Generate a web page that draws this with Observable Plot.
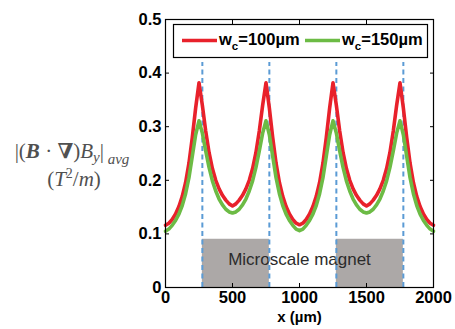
<!DOCTYPE html>
<html>
<head>
<meta charset="utf-8">
<script src="https://cdn.jsdelivr.net/npm/d3@7"></script>
<script src="https://cdn.jsdelivr.net/npm/@observablehq/plot@0.6"></script>
<style>
  body { margin: 0; background: #fff; }
  #chart { width: 455px; height: 329px; }
  svg { overflow: visible; }
</style>
</head>
<body>
<div id="chart"></div>
<script>
// Sampling positions along the channel (µm)
const positions = d3.range(0, 2001, 25);

// |(B·∇)By|avg for the two channel widths, one value per position
const red100 = [
  0.116, 0.120, 0.127, 0.137, 0.151, 0.170, 0.196, 0.232, 0.280, 0.335,
  0.382, 0.340, 0.292, 0.252, 0.222, 0.200, 0.184, 0.172, 0.163, 0.156,
  0.152, 0.156, 0.163, 0.172, 0.184, 0.200, 0.222, 0.252, 0.292, 0.340,
  0.382, 0.335, 0.280, 0.232, 0.196, 0.170, 0.151, 0.137, 0.127, 0.120,
  0.117, 0.120, 0.127, 0.137, 0.151, 0.170, 0.196, 0.232, 0.280, 0.335,
  0.382, 0.340, 0.292, 0.252, 0.222, 0.200, 0.184, 0.172, 0.163, 0.156,
  0.152, 0.156, 0.163, 0.172, 0.184, 0.200, 0.222, 0.252, 0.292, 0.340,
  0.382, 0.335, 0.280, 0.232, 0.196, 0.170, 0.151, 0.137, 0.127, 0.120,
  0.116
];
const green150 = [
  0.105, 0.109, 0.116, 0.125, 0.137, 0.153, 0.175, 0.205, 0.245, 0.285,
  0.311, 0.288, 0.255, 0.224, 0.199, 0.180, 0.165, 0.154, 0.146, 0.141,
  0.139, 0.141, 0.146, 0.154, 0.165, 0.180, 0.199, 0.224, 0.255, 0.288,
  0.311, 0.285, 0.245, 0.205, 0.175, 0.153, 0.137, 0.125, 0.116, 0.109,
  0.106, 0.109, 0.116, 0.125, 0.137, 0.153, 0.175, 0.205, 0.245, 0.285,
  0.311, 0.288, 0.255, 0.224, 0.199, 0.180, 0.165, 0.154, 0.146, 0.141,
  0.139, 0.141, 0.146, 0.154, 0.165, 0.180, 0.199, 0.224, 0.255, 0.288,
  0.311, 0.285, 0.245, 0.205, 0.175, 0.153, 0.137, 0.125, 0.116, 0.109,
  0.105
];

// Magnet blocks (µm) and their edges
const magnetStart = [275, 1275];
const magnetEnd = [775, 1775];
const magnetEdges = [275, 775, 1275, 1775];
const magnetTop = 0.09;
const edgeTop = 0.42;

const seriesNames = ["100µm", "150µm"];
const xTicks = [0, 500, 1000, 1500, 2000];
const yTicks = [0, 0.1, 0.2, 0.3, 0.4, 0.5];
const yTickLabels = ["0", "0.1", "0.2", "0.3", "0.4", "0.5"];

const RED = "#e8212b";
const GREEN = "#6cbb45";
const BLUE = "#5b9bd5";

const rows = positions.map((x, i) => ({x, red: red100[i], green: green150[i]}));
const magnets = magnetStart.map((s, i) => ({start: s, end: magnetEnd[i]}));

const tickFont = {fontSize: 16.5, fontWeight: "bold", fill: "#000"};

const chart = Plot.plot({
  width: 455,
  height: 329,
  marginLeft: 165,
  marginRight: 22,
  marginTop: 19,
  marginBottom: 42,
  style: {fontFamily: "'Liberation Sans', Arial, sans-serif", background: "#fff", color: "#000"},
  x: {domain: [0, 2000]},
  y: {domain: [0, 0.5]},
  marks: [
    Plot.rect(magnets, {x1: "start", x2: "end", y1: 0, y2: magnetTop, fill: "#aca8a7"}),
    Plot.text(["Microscale magnet"], {
      frameAnchor: "bottom", dy: -23, text: d => d,
      fontSize: 17, fill: "#2b2b2b", fontFamily: "'Liberation Sans', Arial, sans-serif"
    }),
    Plot.ruleX(magnetEdges, {x: d => d, y1: 0, y2: edgeTop, stroke: BLUE, strokeWidth: 2, strokeDasharray: "5,3.5"}),
    Plot.line(rows, {x: "x", y: "red", stroke: RED, strokeWidth: 3.6}),
    Plot.line(rows, {x: "x", y: "green", stroke: GREEN, strokeWidth: 3.6}),
    Plot.frame({stroke: "#000", strokeWidth: 1.2}),
    // inward ticks on all four sides
    Plot.axisX(xTicks, {anchor: "bottom", tickSize: -4, tickFormat: () => "", label: null}),
    Plot.axisX(xTicks, {anchor: "top", tickSize: -4, tickFormat: () => "", label: null}),
    Plot.axisY(yTicks, {anchor: "left", tickSize: -4, tickFormat: () => "", label: null}),
    Plot.axisY(yTicks, {anchor: "right", tickSize: -4, tickFormat: () => "", label: null}),
    // tick labels
    Plot.axisX(xTicks, {anchor: "bottom", tickSize: 0, tickPadding: 4, label: null,
      tickFormat: d => String(d), ...tickFont}),
    Plot.axisY(yTicks, {anchor: "left", tickSize: 0, tickPadding: 4, label: null,
      tickFormat: d => yTickLabels[yTicks.indexOf(d)], ...tickFont}),
    Plot.text(["x (µm)"], {frameAnchor: "bottom", dy: 34, text: d => d, fontSize: 15, fontWeight: "bold", fill: "#000"})
  ]
});

document.getElementById("chart").appendChild(chart);

const svg = d3.select(chart);

// Legend box inside the plot frame
const lg = svg.append("g").attr("font-family", "'Liberation Sans', Arial, sans-serif")
  .attr("font-weight", "bold").attr("font-size", 16.5).attr("text-anchor", "start");
lg.append("rect").attr("x", 173.5).attr("y", 24.5).attr("width", 254).attr("height", 33)
  .attr("fill", "#fff").attr("stroke", "#000").attr("stroke-width", 1.2);
const entries = [
  {color: RED, x: 182, label: seriesNames[0]},
  {color: GREEN, x: 305, label: seriesNames[1]}
];
entries.forEach(e => {
  lg.append("line").attr("x1", e.x).attr("x2", e.x + 35).attr("y1", 40.5).attr("y2", 40.5)
    .attr("stroke", e.color).attr("stroke-width", 3.6);
  const t = lg.append("text").attr("x", e.x + 37).attr("y", 45).attr("fill", "#000");
  t.append("tspan").text("w");
  t.append("tspan").attr("font-size", 11.5).attr("dy", 5).text("c");
  t.append("tspan").attr("dy", -5).text("=" + e.label);
});

// Y-axis label: |(B·∇)By|avg  (T²/m)
const yl = svg.append("g").attr("font-family", "'Liberation Serif', 'DejaVu Serif', serif")
  .attr("fill", "#505050").attr("font-size", 21);
const l1 = yl.append("text").attr("x", 72).attr("y", 158).attr("text-anchor", "middle");
l1.append("tspan").text("|(");
l1.append("tspan").attr("font-weight", "bold").attr("font-style", "italic").text("B");
l1.append("tspan").text(" · ");
l1.append("tspan").attr("font-weight", "bold").text("∇");
l1.append("tspan").text(")");
l1.append("tspan").attr("font-style", "italic").text("B");
l1.append("tspan").attr("font-style", "italic").attr("font-size", 15).attr("dy", 4).text("y");
l1.append("tspan").attr("dy", -4).text("|");
l1.append("tspan").attr("font-style", "italic").attr("font-size", 15).attr("dy", 6).text(" avg");
const l2 = yl.append("text").attr("x", 74).attr("y", 186).attr("text-anchor", "middle");
l2.append("tspan").text("(");
l2.append("tspan").attr("font-style", "italic").text("T");
l2.append("tspan").attr("font-size", 14).attr("dy", -8).text("2");
l2.append("tspan").attr("dy", 8).text("/");
l2.append("tspan").attr("font-style", "italic").text("m");
l2.append("tspan").text(")");
</script>
</body>
</html>
